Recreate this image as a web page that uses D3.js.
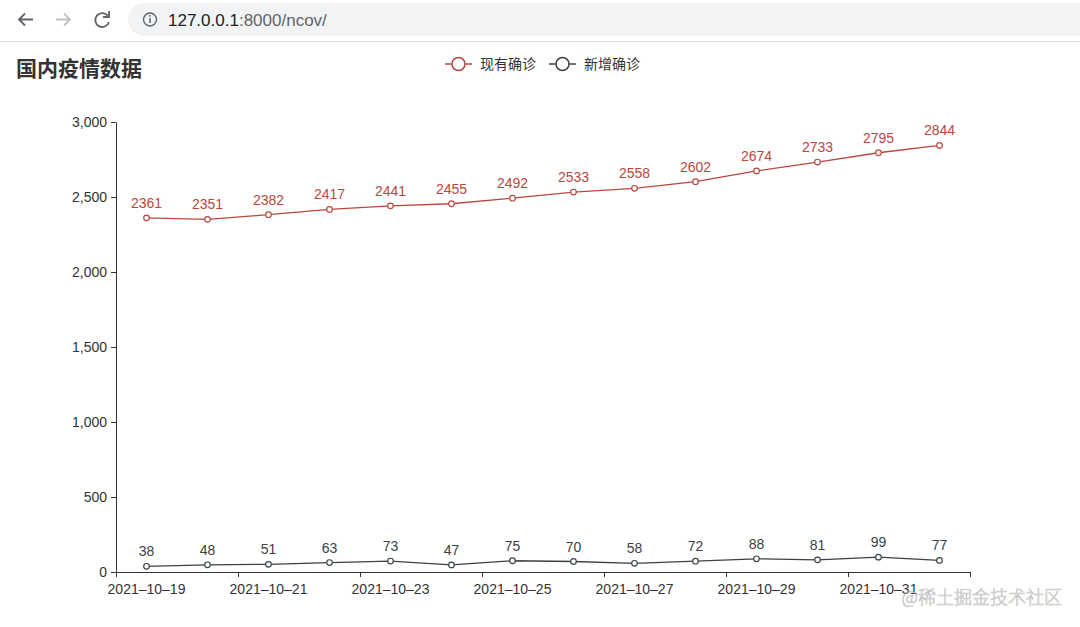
<!DOCTYPE html>
<html><head><meta charset="utf-8">
<script src="https://cdn.jsdelivr.net/npm/d3@7/dist/d3.min.js"></script>
<style>
html,body{margin:0;padding:0;background:#fff;}
svg{display:block;}
</style></head>
<body>
<svg id="chart" width="1080" height="627"></svg>
<script>
const dates = ["2021-10-19","2021-10-20","2021-10-21","2021-10-22","2021-10-23","2021-10-24","2021-10-25","2021-10-26","2021-10-27","2021-10-28","2021-10-29","2021-10-30","2021-10-31","2021-11-01"];
const existing = [2361,2351,2382,2417,2441,2455,2492,2533,2558,2602,2674,2733,2795,2844];
const newCases = [38,48,51,63,73,47,75,70,58,72,88,81,99,77];
const yTicks = [0,500,1000,1500,2000,2500,3000];
const seriesNames = ["现有确诊","新增确诊"];
const colors = ["#b9463f","#3a4247"];

const FONT = "'Liberation Sans','Noto Sans CJK SC',sans-serif";
const svg = d3.select("#chart");

// browser chrome
const chrome = svg.append("g");
chrome.append("rect").attr("x",0).attr("y",0).attr("width",1080).attr("height",41).attr("fill","#fff");
chrome.append("rect").attr("x",128).attr("y",3).attr("width",980).attr("height",33).attr("rx",16.5).attr("fill","#f1f3f4");
chrome.append("line").attr("x1",0).attr("x2",1080).attr("y1",41.5).attr("y2",41.5).attr("stroke","#dadce0");
chrome.append("path").attr("d","M33,19.5 H19 M25,13.5 L19,19.5 L25,25.5").attr("fill","none").attr("stroke","#5f6368").attr("stroke-width",1.8);
chrome.append("path").attr("d","M56,19.5 H70 M64,13.5 L70,19.5 L64,25.5").attr("fill","none").attr("stroke","#bdc1c6").attr("stroke-width",1.8);
chrome.append("path").attr("d","M108,16 A7,7 0 1 0 109,22").attr("fill","none").attr("stroke","#5f6368").attr("stroke-width",1.8);
chrome.append("path").attr("d","M109,11 L109,17 L103,17").attr("fill","none").attr("stroke","#5f6368").attr("stroke-width",1.8);
chrome.append("circle").attr("cx",150).attr("cy",19.5).attr("r",6.5).attr("fill","none").attr("stroke","#5f6368").attr("stroke-width",1.4);
chrome.append("line").attr("x1",150).attr("x2",150).attr("y1",18).attr("y2",23).attr("stroke","#5f6368").attr("stroke-width",1.5);
chrome.append("circle").attr("cx",150).attr("cy",15.8).attr("r",0.9).attr("fill","#5f6368");
const url = chrome.append("text").attr("x",168).attr("y",25.5).attr("font-family",FONT).attr("font-size",17);
url.append("tspan").attr("fill","#202124").text("127.0.0.1");
url.append("tspan").attr("fill","#5f6368").text(":8000/ncov/");

// title
svg.append("text").attr("x",16).attr("y",76).attr("font-family","'Noto Sans CJK SC',sans-serif")
  .attr("font-size",21).attr("font-weight","bold").attr("fill","#333").text("国内疫情数据");

// legend
const legendX = [445,549];
seriesNames.forEach((name,i)=>{
  const g = svg.append("g").attr("transform",`translate(${legendX[i]},64)`);
  g.append("line").attr("x1",0).attr("x2",27).attr("y1",0).attr("y2",0).attr("stroke",colors[i]).attr("stroke-width",1.5);
  g.append("circle").attr("cx",13.5).attr("cy",0).attr("r",6.5).attr("fill","#fff").attr("stroke",colors[i]).attr("stroke-width",1.5);
  g.append("text").attr("x",35).attr("y",5).attr("font-family","'Noto Sans CJK SC',sans-serif").attr("font-size",14).attr("fill","#333").text(name);
});

// scales
const x = d3.scaleBand().domain(dates).range([116,970]);
const y = d3.scaleLinear().domain([0,3000]).range([572,122]);

// y axis
const yAxis = svg.append("g").attr("transform","translate(116,0)")
  .call(d3.axisLeft(y).tickValues(yTicks).tickFormat(d3.format(",")).tickSize(5).tickSizeOuter(0));
yAxis.attr("font-size",null).attr("font-family",null);
yAxis.select(".domain").attr("stroke","#333");
yAxis.selectAll(".tick line").attr("stroke","#333");
yAxis.selectAll("text").attr("font-family",FONT).attr("font-size",14).attr("fill","#333").attr("x",-9);

// x axis
const xAxisG = svg.append("g").attr("transform","translate(0,572)");
xAxisG.append("line").attr("x1",116).attr("x2",970).attr("y1",0.5).attr("y2",0.5).attr("stroke","#333");
const tickDates = dates.filter((d,i)=>i%2===0);
xAxisG.selectAll(".xt").data(tickDates).enter().append("line")
  .attr("x1",d=>Math.round(x(d))+0.5).attr("x2",d=>Math.round(x(d))+0.5).attr("y1",0).attr("y2",5).attr("stroke","#333");
xAxisG.append("line").attr("x1",970.5).attr("x2",970.5).attr("y1",0).attr("y2",5).attr("stroke","#333");
xAxisG.selectAll(".xl").data(tickDates).enter().append("text")
  .attr("x",d=>x(d)+x.bandwidth()/2).attr("y",22).attr("text-anchor","middle")
  .attr("font-family",FONT).attr("font-size",14).attr("fill","#333").text(d=>d.replace(/-/g,"–"));

// series
const allSeries = [existing,newCases];
allSeries.forEach((vals,si)=>{
  const pts = vals.map((v,i)=>[x(dates[i])+x.bandwidth()/2, y(v)]);
  svg.append("path").attr("d",d3.line()(pts)).attr("fill","none").attr("stroke",colors[si]).attr("stroke-width",1.3);
  svg.selectAll(null).data(vals).enter().append("circle")
    .attr("cx",(v,i)=>x(dates[i])+x.bandwidth()/2).attr("cy",v=>y(v)).attr("r",2.8)
    .attr("fill","#fff").attr("stroke",colors[si]).attr("stroke-width",1.2);
  svg.selectAll(null).data(vals).enter().append("text")
    .attr("x",(v,i)=>x(dates[i])+x.bandwidth()/2).attr("y",v=>y(v)-10).attr("text-anchor","middle")
    .attr("font-family",FONT).attr("font-size",14).attr("fill",colors[si]).text(v=>v);
});

// watermark
svg.append("text").attr("x",1062).attr("y",604).attr("text-anchor","end")
  .attr("font-family","'Noto Sans CJK SC',sans-serif").attr("font-size",18).attr("font-weight",300)
  .attr("fill","rgba(255,255,255,0.7)").attr("stroke","rgba(140,140,140,0.5)").attr("stroke-width",0.7)
  .text("@稀土掘金技术社区");
</script>
</body></html>
